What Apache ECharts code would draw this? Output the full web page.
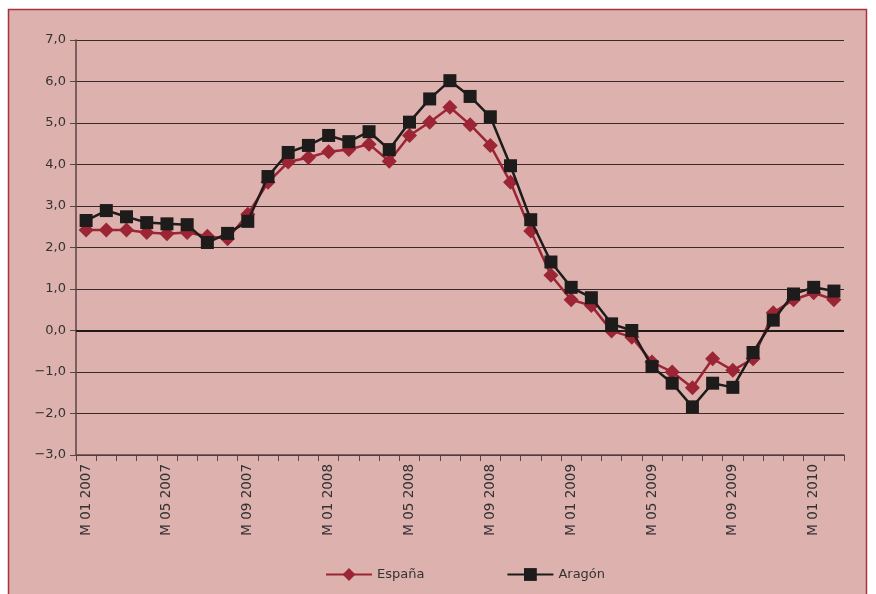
<!DOCTYPE html>
<html>
<head>
<meta charset="utf-8">
<script src="https://cdn.jsdelivr.net/npm/echarts@6/dist/echarts.min.js"></script>
<style>
html,body{margin:0;padding:0;background:#ffffff;}
#chart{width:876px;height:594px;}
</style>
</head>
<body>
<div id="chart"></div>
<script>
var categories = [
  "M 01 2007","M 02 2007","M 03 2007","M 04 2007","M 05 2007","M 06 2007","M 07 2007","M 08 2007","M 09 2007","M 10 2007","M 11 2007","M 12 2007",
  "M 01 2008","M 02 2008","M 03 2008","M 04 2008","M 05 2008","M 06 2008","M 07 2008","M 08 2008","M 09 2008","M 10 2008","M 11 2008","M 12 2008",
  "M 01 2009","M 02 2009","M 03 2009","M 04 2009","M 05 2009","M 06 2009","M 07 2009","M 08 2009","M 09 2009","M 10 2009","M 11 2009","M 12 2009",
  "M 01 2010","M 02 2010"
];
var espana = [2.42, 2.42, 2.42, 2.36, 2.33, 2.36, 2.27, 2.21, 2.80, 3.57, 4.06, 4.17,
  4.31, 4.36, 4.49, 4.08, 4.70, 5.02, 5.38, 4.96, 4.46, 3.57, 2.40, 1.33,
  0.74, 0.60, -0.01, -0.16, -0.76, -1.00, -1.38, -0.68, -0.96, -0.68, 0.43, 0.74,
  0.91, 0.74];
var aragon = [2.65, 2.89, 2.74, 2.60, 2.57, 2.55, 2.12, 2.34, 2.63, 3.71, 4.29, 4.46,
  4.70, 4.55, 4.79, 4.36, 5.02, 5.58, 6.02, 5.64, 5.15, 3.97, 2.67, 1.65,
  1.04, 0.79, 0.16, 0.00, -0.87, -1.27, -1.84, -1.27, -1.37, -0.53, 0.25, 0.88,
  1.04, 0.95];
var seriesNames = ["España", "Aragón"];

var chart = echarts.init(document.getElementById('chart'));
var font = '"DejaVu Sans", sans-serif';
chart.setOption({
  backgroundColor: '#ffffff',
  animation: false,
  graphic: [{
    type: 'rect', z: -10,
    shape: {x: 8.5, y: 9.5, width: 858, height: 600},
    style: {fill: '#ddb1ad', stroke: '#a8323f', lineWidth: 1.5}
  }],
  grid: {left: 76, right: 32, top: 40, bottom: 139, containLabel: false},
  legend: {
    left: 320, top: 563,
    itemWidth: 46, itemHeight: 16, itemGap: 82,
    textStyle: {fontFamily: font, fontSize: 13, color: '#333'},
    data: seriesNames
  },
  xAxis: {
    type: 'category',
    data: categories,
    boundaryGap: true,
    axisLine: {onZero: false, lineStyle: {color: '#5a4545', width: 1.5}},
    axisTick: {show: true, interval: 0, length: 6, lineStyle: {color: '#5a4545'}},
    axisLabel: {interval: 3, rotate: 90, margin: 9, fontFamily: font, fontSize: 13.5, color: '#333'}
  },
  yAxis: {
    type: 'value',
    min: -3, max: 7, interval: 1,
    axisLine: {show: true, lineStyle: {color: '#5a4545', width: 1.5}},
    axisTick: {show: true, length: 6, lineStyle: {color: '#5a4545'}},
    splitLine: {show: true, lineStyle: {color: '#3a2828', width: 1}},
    axisLabel: {
      margin: 10, fontFamily: font, fontSize: 13, color: '#333',
      formatter: function (v) { return (v < 0 ? '\u2212' : '') + Math.abs(v).toFixed(1).replace('.', ','); }
    }
  },
  series: [
    {
      name: seriesNames[0], type: 'line', data: espana,
      symbol: 'diamond', symbolSize: 15, showAllSymbol: true,
      itemStyle: {color: '#9b2435'},
      lineStyle: {color: '#9b2435', width: 2.5},
      markLine: {
        silent: true, symbol: 'none', label: {show: false},
        lineStyle: {color: '#221818', width: 2, type: 'solid'},
        data: [{yAxis: 0}]
      },
      z: 3
    },
    {
      name: seriesNames[1], type: 'line', data: aragon,
      symbol: 'rect', symbolSize: 13, showAllSymbol: true,
      itemStyle: {color: '#1e1b1b'},
      lineStyle: {color: '#1e1b1b', width: 2.5},
      z: 4
    }
  ]
});
</script>
</body>
</html>
